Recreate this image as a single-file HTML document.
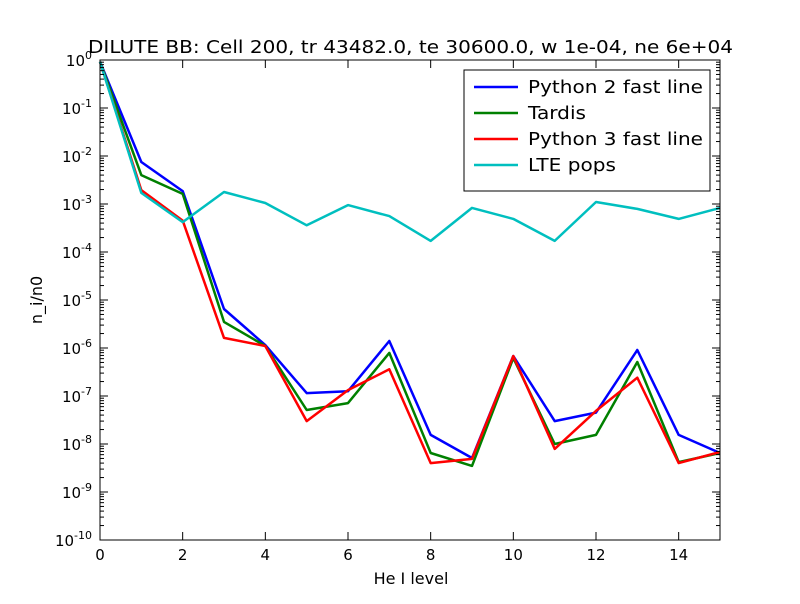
<!DOCTYPE html>
<html><head><meta charset="utf-8">
<style>
body{margin:0;background:#fff;font-family:"DejaVu Sans",sans-serif;}
svg text{font-family:"DejaVu Sans",sans-serif;}
</style></head>
<body>
<svg id="chart" width="800" height="600" xmlns="http://www.w3.org/2000/svg">
<rect width="800" height="600" fill="#fff"/>
<text x="88" y="53" font-size="18" textLength="645" lengthAdjust="spacingAndGlyphs">DILUTE BB: Cell 200, tr 43482.0, te 30600.0, w 1e-04, ne 6e+04</text>
<g id="marks"></g>
<g id="axes"></g>
<rect x="100" y="60" width="620" height="480" fill="none" stroke="#000" stroke-width="1"/>
<text x="411" y="584" text-anchor="middle" font-size="16">He I level</text>
<text transform="translate(42,300) rotate(-90)" text-anchor="middle" font-size="16">n_i/n0</text>
<g id="legend">
<rect x="464" y="70" width="246" height="121" fill="#fff" stroke="#000" stroke-width="1"/>
</g>
</svg>
<script>
const levels=[0,1,2,3,4,5,6,7,8,9,10,11,12,13,14,15];
const python2=[0.92,7.5e-3,1.86e-3,6.5e-6,1.15e-6,1.15e-7,1.26e-7,1.4e-6,1.55e-8,5.1e-9,6.8e-7,3.0e-8,4.5e-8,9.1e-7,1.55e-8,6.5e-9];
const tardis=[0.92,4.0e-3,1.62e-3,3.5e-6,1.1e-6,5.1e-8,7.1e-8,7.9e-7,6.5e-9,3.5e-9,6.2e-7,1.0e-8,1.55e-8,5.1e-7,4.2e-9,6.5e-9];
const python3=[0.92,1.95e-3,4.5e-4,1.62e-6,1.1e-6,3.0e-8,1.33e-7,3.6e-7,4.0e-9,4.9e-9,6.8e-7,7.9e-9,4.9e-8,2.4e-7,4.0e-9,6.8e-9];
const ltePops=[0.92,1.7e-3,4.2e-4,1.78e-3,1.05e-3,3.6e-4,9.5e-4,5.6e-4,1.7e-4,8.3e-4,4.9e-4,1.7e-4,1.1e-3,7.9e-4,4.9e-4,8.3e-4];
const xTicks=[0,2,4,6,8,10,12,14];
const yExps=[-10,-9,-8,-7,-6,-5,-4,-3,-2,-1,0];
const series=[
 {name:'Python 2 fast line',vals:python2,color:'#0000ff',key:'python2'},
 {name:'Tardis',vals:tardis,color:'#008000',key:'tardis'},
 {name:'Python 3 fast line',vals:python3,color:'#ff0000',key:'python3'},
 {name:'LTE pops',vals:ltePops,color:'#00bfbf',key:'lte-pops'}
];
const legendLens=[175,58,175,88];
const X0=100,X1=720,Y0=60,Y1=540;
const xs=v=>X0+(v-0)/(15-0)*(X1-X0);
const ys=v=>Y1-(Math.log10(v)+10)/10*(Y1-Y0);
const NS='http://www.w3.org/2000/svg';
function mk(t,a,p){const e=document.createElementNS(NS,t);for(const k in a)e.setAttribute(k,a[k]);p.appendChild(e);return e;}
const marks=document.getElementById('marks'),axes=document.getElementById('axes'),legend=document.getElementById('legend');
series.forEach(s=>{
 const pts=levels.map((l,i)=>xs(l).toFixed(1)+','+ys(s.vals[i]).toFixed(1)).join(' ');
 const pl=mk('polyline',{points:pts,fill:'none',stroke:s.color,'stroke-width':2.5,'stroke-linejoin':'round'},marks);
 
 
});
xTicks.forEach(t=>{
 const x=xs(t);
 mk('line',{x1:x,x2:x,y1:Y1,y2:Y1-8,stroke:'#000'},axes);
 mk('line',{x1:x,x2:x,y1:Y0,y2:Y0+8,stroke:'#000'},axes);
 const tx=mk('text',{x:x,y:Y1+20,'text-anchor':'middle','font-size':15},axes);
 tx.textContent=t;
 
 
});
yExps.forEach(e=>{
 const y=ys(Math.pow(10,e));
 mk('line',{x1:X0,x2:X0+8,y1:y,y2:y,stroke:'#000'},axes);
 mk('line',{x1:X1,x2:X1-8,y1:y,y2:y,stroke:'#000'},axes);
 if(e<0){for(let m=2;m<10;m++){const yy=ys(m*Math.pow(10,e));
  mk('line',{x1:X0,x2:X0+4,y1:yy,y2:yy,stroke:'#000'},axes);
  mk('line',{x1:X1,x2:X1-4,y1:yy,y2:yy,stroke:'#000'},axes);}}
 const tx=mk('text',{x:X0-8,y:y+6,'text-anchor':'end','font-size':15},axes);
 
 
 const b=mk('tspan',{},tx);b.textContent='10';
 const sp=mk('tspan',{dy:-7,'font-size':11},tx);sp.textContent=String(e);
});
series.forEach((s,i)=>{
 const y=87+i*26;
 const ln=mk('line',{x1:474,x2:518,y1:y,y2:y,stroke:s.color,'stroke-width':2.5},legend);
 
 
 const t=mk('text',{x:528,y:y+6,'font-size':18,textLength:legendLens[i],lengthAdjust:'spacingAndGlyphs'},legend);
 t.textContent=s.name;
 
 
});
</script>
</body></html>
